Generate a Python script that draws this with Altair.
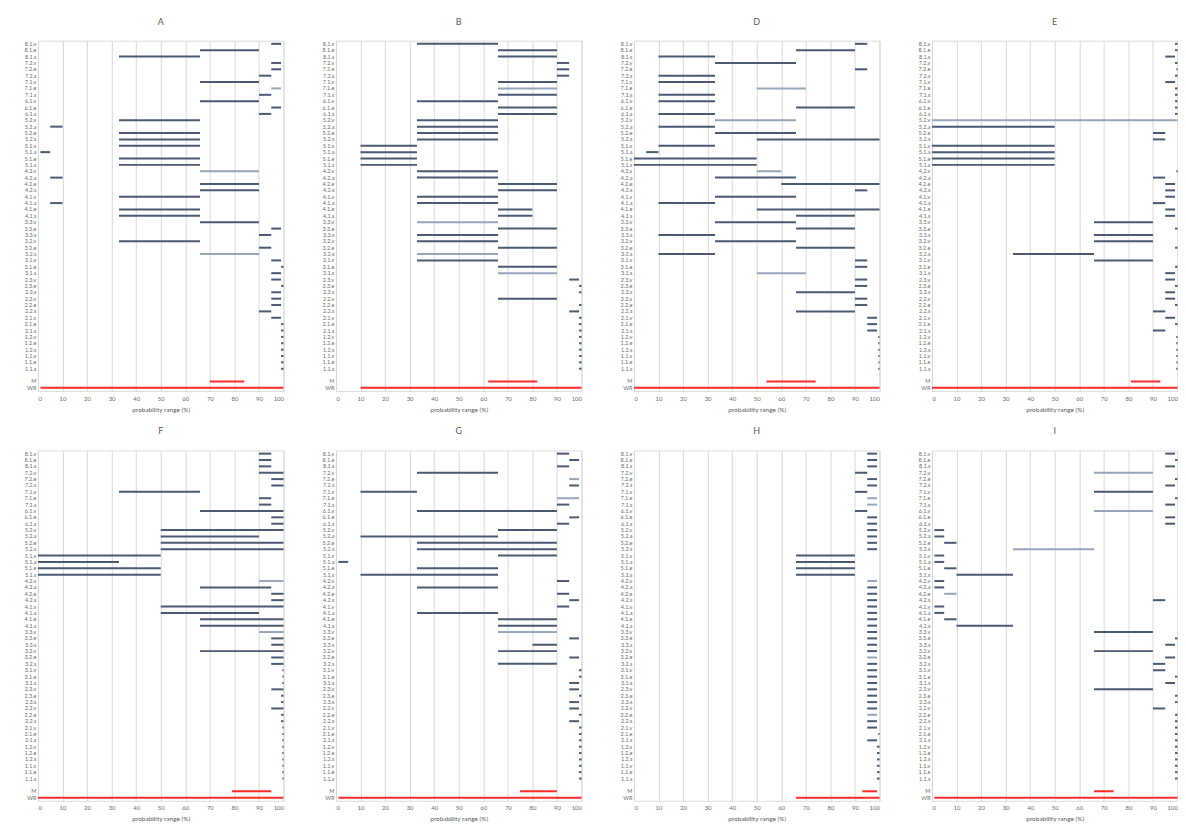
import altair as alt
import pandas as pd

# ---- categories (top to bottom) ----
CATS = ["8.1.v", "8.1.e", "8.1.s", "7.2.v", "7.2.e", "7.2.s", "7.1.v", "7.1.e", "7.1.s",
        "6.1.v", "6.1.e", "6.1.s", "5.2.v", "5.2.a", "5.2.e", "5.2.s",
        "5.1.v", "5.1.a", "5.1.e", "5.1.s", "4.2.v", "4.2.a", "4.2.e", "4.2.s",
        "4.1.v", "4.1.a", "4.1.e", "4.1.s", "3.3.v", "3.3.e", "3.3.s",
        "3.2.v", "3.2.e", "3.2.s", "3.1.v", "3.1.e", "3.1.s",
        "2.3.v", "2.3.e", "2.3.s", "2.2.v", "2.2.e", "2.2.s",
        "2.1.v", "2.1.e", "2.1.s", "1.2.v", "1.2.e", "1.2.s", "1.1.v", "1.1.e", "1.1.s"]
EXTRA = ["_", "M", "WR"]

PANELS = ["A", "B", "D", "E", "F", "G", "H", "I"]

A = ["95-99", "66-90", "33-66", "95-99", "95-99", "90-95", "66-90", "95-99", "90-95",
     "66-90", "95-99", "90-95", "33-66", "5-10", "33-66", "33-66",
     "33-66", "1-5", "33-66", "33-66", "66-90", "5-10", "66-90", "66-90",
     "33-66", "5-10", "33-66", "33-66", "66-90", "95-99", "90-95",
     "33-66", "90-95", "66-90", "95-99", "99-100", "95-99",
     "95-99", "99-100", "95-99", "95-99", "95-99", "90-95",
     "95-99", "99-100", "99-100", "99-100", "99-100", "99-100", "99-100", "99-100", "99-100"]
B = ["33-66", "66-90", "66-90", "90-95", "90-95", "90-95", "66-90", "66-90", "66-90",
     "33-66", "66-90", "66-90", "33-66", "33-66", "33-66", "33-66",
     "10-33", "10-33", "10-33", "10-33", "33-66", "33-66", "66-90", "66-90",
     "33-66", "33-66", "66-80", "66-80", "33-66", "66-90", "33-66",
     "33-66", "66-90", "33-66", "33-66", "66-90", "66-90",
     "95-99", "99-100", "99-100", "66-90", "99-100", "95-99",
     "99-100", "99-100", "99-100", "99-100", "99-100", "99-100", "99-100", "99-100", "99-100"]
D = ["90-95", "66-90", "10-33", "33-66", "90-95", "10-33", "10-33", "50-70", "10-33",
     "10-33", "66-90", "10-33", "33-66", "10-33", "33-66", "50-100",
     "10-33", "5-10", "0-50", "0-50", "50-60", "33-66", "60-100", "90-95",
     "33-66", "10-33", "50-100", "66-90", "33-66", "66-90", "10-33",
     "33-66", "66-90", "10-33", "90-95", "90-95", "50-70",
     "90-95", "90-95", "66-90", "90-95", "90-95", "66-90",
     "95-99", "95-99", "95-99", "99.5-100", "99.5-100", "99.5-100", "99.5-100", "99.5-100", "99.5-100"]
E = ["99-100", "99-100", "95-99", "99-100", "99.5-100", "99-100", "95-99", "99-100", "99-100",
     "99-100", "99-100", "99-100", "0-100", "0-50", "90-95", "90-95",
     "0-50", "0-50", "0-50", "0-50", "99.5-100", "90-95", "95-99", "95-99",
     "95-99", "90-95", "95-99", "95-99", "66-90", "99-100", "66-90",
     "66-90", "99-100", "33-66", "66-90", "99-100", "95-99",
     "95-99", "99-100", "95-99", "95-99", "99-100", "90-95",
     "95-99", "99-100", "90-95", "99.5-100", "99.5-100", "99.5-100", "99.5-100", "99.5-100", "99.5-100"]
F = ["90-95", "90-95", "90-95", "90-100", "95-100", "95-100", "33-66", "90-95", "90-95",
     "66-100", "95-100", "95-100", "50-100", "50-90", "50-100", "50-100",
     "0-50", "0-33", "0-50", "0-50", "90-100", "66-95", "95-100", "95-100",
     "50-100", "50-90", "66-100", "66-100", "90-100", "95-100", "95-100",
     "66-100", "95-100", "95-100", "99.5-100", "99.5-100", "99.5-100",
     "95-100", "99-100", "99-100", "95-100", "99-100", "99-100",
     "99.5-100", "99.5-100", "99.5-100", "99.5-100", "99.5-100", "99.5-100", "99.5-100", "99.5-100", "99.5-100"]
G = ["90-95", "95-99", "90-95", "33-66", "95-99", "95-99", "10-33", "90-99", "90-95",
     "33-90", "95-99", "90-95", "66-90", "10-66", "33-90", "33-90",
     "66-90", "1-5", "33-66", "10-66", "90-95", "33-66", "90-95", "95-99",
     "90-95", "33-66", "66-90", "66-90", "66-90", "95-99", "80-90",
     "66-90", "95-99", "66-90", "99-100", "99-100", "95-99",
     "95-99", "99-100", "95-99", "95-99", "99-100", "95-99",
     "99-100", "99-100", "99-100", "99-100", "99-100", "99-100", "99-100", "99-100", "99-100"]
H = ["95-99", "95-99", "95-99", "90-95", "95-99", "95-99", "90-95", "95-99", "95-99",
     "90-95", "95-99", "95-99", "95-99", "95-99", "95-99", "95-99",
     "66-90", "66-90", "66-90", "66-90", "95-99", "95-99", "95-99", "95-99",
     "95-99", "95-99", "95-99", "95-99", "95-99", "95-99", "95-99",
     "95-99", "95-99", "95-99", "95-99", "95-99", "95-99",
     "95-99", "95-99", "95-99", "95-99", "95-99", "95-99",
     "95-99", "99.5-100", "95-99", "99-100", "99-100", "99-100", "99-100", "99-100", "99-100"]
I = ["95-99", "99-100", "95-99", "66-90", "99-100", "95-99", "66-90", "99-100", "95-99",
     "66-90", "95-99", "95-99", "1-5", "1-5", "5-10", "33-66",
     "1-5", "1-5", "5-10", "10-33", "1-5", "1-5", "5-10", "90-95",
     "1-5", "1-5", "5-10", "10-33", "66-90", "99-100", "95-99",
     "66-90", "95-99", "90-95", "90-95", "99-100", "95-99",
     "66-90", "99-100", "99-100", "90-95", "99-100", "99-100",
     "99-100", "99-100", "99-100", "99-100", "99-100", "99-100", "99-100", "99-100", "99-100"]
RANGES = [A, B, D, E, F, G, H, I]

M_RANGE = ["70-84", "62-82", "54-74", "81-93", "79-95", "75-90", "93-99", "66-74"]
WR_RANGE = ["1-100", "10-100", "0-100", "0-100", "0-100", "1-100", "66-100", "1-100"]

LIGHT = [["7.1.e", "4.2.v", "3.2.s"],
         ["7.1.e", "3.3.v", "3.2.s", "3.1.s"],
         ["7.1.e", "5.2.v", "4.2.v", "3.1.s"],
         ["5.2.v"],
         ["4.2.v", "3.3.v"],
         ["7.2.e", "7.1.e", "3.3.v"],
         ["7.1.e", "7.1.s", "4.2.v", "3.2.e", "2.2.e"],
         ["7.2.v", "6.1.v", "5.2.s", "4.2.e"]]

YDOM = CATS + EXTRA
FONT = "Lato"
GRAY = "#6b6b6b"


def split(r):
    lo, hi = r.split("-")
    return float(lo), float(hi)


def panel(name, ranges, m, wr, light):
    assert len(ranges) == len(CATS)
    rows = []
    for c, r in zip(CATS, ranges):
        lo, hi = split(r)
        rows.append({"cat": c, "lo": lo, "hi": hi, "tone": "light" if c in light else "dark"})
    for c, r in (("M", m), ("WR", wr)):
        lo, hi = split(r)
        rows.append({"cat": c, "lo": lo, "hi": hi, "tone": "red"})
    df = pd.DataFrame(rows)
    return alt.Chart(df, title=alt.TitleParams(
        name, fontSize=9, color="#595959", font=FONT, fontWeight="normal",
        offset=14, frame="group", anchor="middle")).mark_bar(size=2).encode(
        x=alt.X("lo:Q", scale=alt.Scale(domain=[0, 100], nice=False, zero=False),
                axis=alt.Axis(values=list(range(0, 101, 10)), title="probability range (%)",
                              grid=True, gridColor="#d9d9d9", gridWidth=1, domain=False,
                              ticks=False, tickSize=0, labelPadding=4, labelFontSize=6,
                              labelColor=GRAY, labelFont=FONT, titleFont=FONT,
                              titleFontSize=6.5, titleFontWeight="normal", titleColor="#595959",
                              titlePadding=5)),
        x2="hi:Q",
        y=alt.Y("cat:N", sort=YDOM,
                scale=alt.Scale(domain=YDOM, paddingInner=0, paddingOuter=0),
                axis=alt.Axis(title=None, labelExpr="datum.value == '_' ? '' : datum.value",
                              ticks=False, tickSize=0, domain=False, grid=False, labelPadding=2,
                              labelFontSize=5.5, labelColor=GRAY, labelFont=FONT,
                              minExtent=29, maxExtent=29)),
        color=alt.Color("tone:N", legend=None,
                        scale=alt.Scale(domain=["dark", "light", "red"],
                                        range=["#4a5a72", "#97a5ba", "#ff2b2b"])),
    ).properties(width=246, height=351)


charts = [panel(PANELS[i], RANGES[i], M_RANGE[i], WR_RANGE[i], LIGHT[i]) for i in range(8)]
top = alt.hconcat(*charts[:4], spacing=21.5)
bottom = alt.hconcat(*charts[4:], spacing=21.5)
chart = alt.vconcat(top, bottom, spacing=13.5).properties(
    padding={"left": 0, "top": 8, "right": 0, "bottom": 0}
).configure_view(stroke=None).configure(background="white")

chart.save("out.html", embed_options={"renderer": "svg", "actions": False})
